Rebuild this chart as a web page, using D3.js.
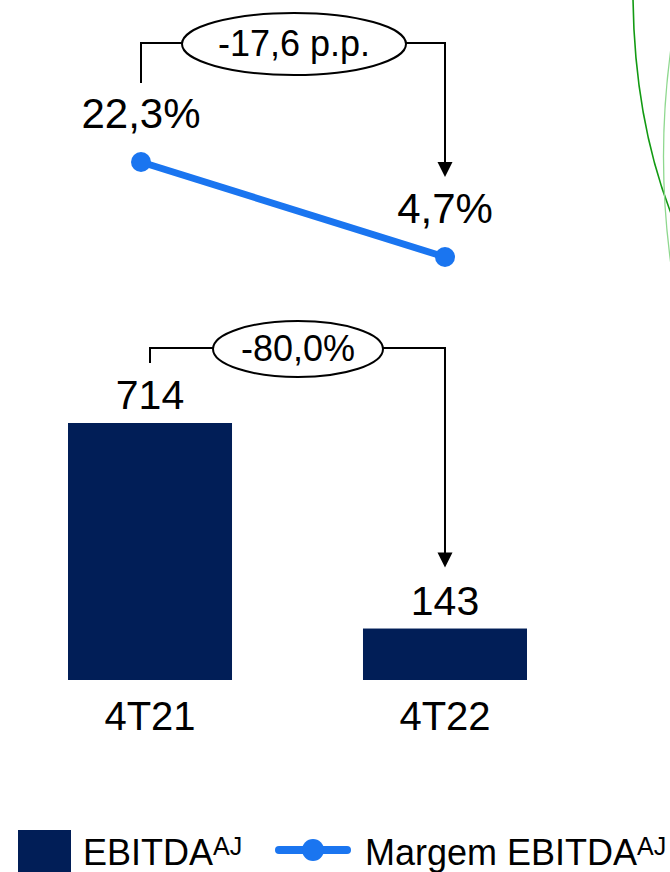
<!DOCTYPE html>
<html>
<head>
<meta charset="utf-8">
<script src="https://cdn.jsdelivr.net/npm/d3@7/dist/d3.min.js"></script>
<style>
  html, body { margin: 0; padding: 0; background: #fff; }
  svg { display: block; font-family: "Liberation Sans", Arial, sans-serif; }
</style>
</head>
<body>
<svg id="chart" width="670" height="872"></svg>
<script>
// ---- data ----
const categories = ["4T21", "4T22"];
const ebitda = [714, 143];
const ebitdaLabels = ["714", "143"];
const margem = [22.3, 4.7];
const margemLabels = ["22,3%", "4,7%"];
const ebitdaVarLabel = "-80,0%";
const margemVarLabel = "-17,6 p.p.";
const legendLabels = ["EBITDA", "Margem EBITDA"];
const legendSup = "AJ";

// ---- styles ----
const barColor = "#011e57";
const lineColor = "#1a75f0";
const svg = d3.select("#chart");

// ---- scales ----
const xBar = d3.scaleBand().domain(categories).range([68, 527]).paddingInner(0.444).paddingOuter(0);
const yBar = d3.scaleLinear().domain([0, 714]).range([680, 423]);
const xLine = d3.scalePoint().domain(categories).range([141, 445]);
const yLine = d3.scaleLinear().domain([4.7, 22.3]).range([257, 162]);

// ---- decorative green curves (right edge) ----
const p1 = d3.path(); p1.moveTo(633, -2); p1.bezierCurveTo(634, 90, 650, 160, 672, 216);
svg.append("path").attr("d", p1.toString()).attr("fill", "none").attr("stroke", "#129a12").attr("stroke-width", 1.6);
const p2 = d3.path(); p2.moveTo(671, 48); p2.quadraticCurveTo(656, 157, 671, 265);
svg.append("path").attr("d", p2.toString()).attr("fill", "none").attr("stroke", "#8fd88f").attr("stroke-width", 1.3);

// ---- bars ----
const bc = c => xBar(c) + xBar.bandwidth() / 2;
svg.selectAll("rect.bar").data(categories).join("rect").attr("class", "bar")
  .attr("x", d => xBar(d)).attr("width", xBar.bandwidth())
  .attr("y", (d, i) => yBar(ebitda[i])).attr("height", (d, i) => yBar(0) - yBar(ebitda[i]))
  .attr("fill", barColor);

svg.selectAll("text.barval").data(categories).join("text").attr("class", "barval")
  .attr("x", d => bc(d)).attr("y", (d, i) => yBar(ebitda[i]) - 14)
  .attr("text-anchor", "middle").attr("font-size", 41).attr("fill", "#000")
  .text((d, i) => ebitdaLabels[i]);

svg.selectAll("text.cat").data(categories).join("text").attr("class", "cat")
  .attr("x", d => bc(d)).attr("y", yBar(0) + 50)
  .attr("text-anchor", "middle").attr("font-size", 40).attr("fill", "#000")
  .text(d => d);

// ---- line ----
const pts = categories.map((c, i) => [xLine(c), yLine(margem[i])]);
svg.append("path").attr("d", d3.line()(pts)).attr("fill", "none")
  .attr("stroke", lineColor).attr("stroke-width", 7);
svg.selectAll("circle.pt").data(pts).join("circle").attr("class", "pt")
  .attr("cx", d => d[0]).attr("cy", d => d[1]).attr("r", 10).attr("fill", lineColor);
svg.selectAll("text.lineval").data(categories).join("text").attr("class", "lineval")
  .attr("x", d => xLine(d)).attr("y", (d, i) => yLine(margem[i]) - 34)
  .attr("text-anchor", "middle").attr("font-size", 42).attr("fill", "#000")
  .text((d, i) => margemLabels[i]);

// ---- variation brackets ----
function bracket(x0, y0, x1, yTop, yTip, cx, rx, ry, label, fs) {
  const g = svg.append("g");
  const p = d3.path();
  p.moveTo(x0, y0); p.lineTo(x0, yTop); p.lineTo(x1, yTop); p.lineTo(x1, yTip - 14);
  g.append("path").attr("d", p.toString()).attr("fill", "none").attr("stroke", "#000").attr("stroke-width", 2);
  const a = d3.path();
  a.moveTo(x1 - 7.5, yTip - 15); a.lineTo(x1 + 7.5, yTip - 15); a.lineTo(x1, yTip); a.closePath();
  g.append("path").attr("d", a.toString()).attr("fill", "#000");
  g.append("ellipse").attr("cx", cx).attr("cy", yTop + 1).attr("rx", rx).attr("ry", ry)
    .attr("fill", "#fff").attr("stroke", "#000").attr("stroke-width", 2);
  g.append("text").attr("x", cx).attr("y", yTop + 13).attr("text-anchor", "middle")
    .attr("font-size", fs).attr("fill", "#000").text(label);
}
bracket(xLine(categories[0]), yLine(margem[0]) - 79, xLine(categories[1]), 43, yLine(margem[1]) - 80,
        294, 112, 31, margemVarLabel, 36);
bracket(bc(categories[0]), yBar(ebitda[0]) - 60, bc(categories[1]), 348, yBar(ebitda[1]) - 61,
        298, 85, 28, ebitdaVarLabel, 36);

// ---- legend ----
svg.append("rect").attr("x", 18).attr("y", 830).attr("width", 53).attr("height", 42).attr("fill", barColor);
const t1 = svg.append("text").attr("x", 83).attr("y", 865).attr("font-size", 36).attr("fill", "#000");
t1.append("tspan").text(legendLabels[0]);
t1.append("tspan").attr("font-size", 25).attr("dy", -10).text(legendSup);
svg.append("line").attr("x1", 279).attr("x2", 347).attr("y1", 850).attr("y2", 850)
  .attr("stroke", lineColor).attr("stroke-width", 8).attr("stroke-linecap", "round");
svg.append("circle").attr("cx", 313).attr("cy", 850).attr("r", 11).attr("fill", lineColor);
const t2 = svg.append("text").attr("x", 365).attr("y", 865).attr("font-size", 36).attr("fill", "#000");
t2.append("tspan").text(legendLabels[1]);
t2.append("tspan").attr("font-size", 25).attr("dy", -10).text(legendSup);
</script>
</body>
</html>
